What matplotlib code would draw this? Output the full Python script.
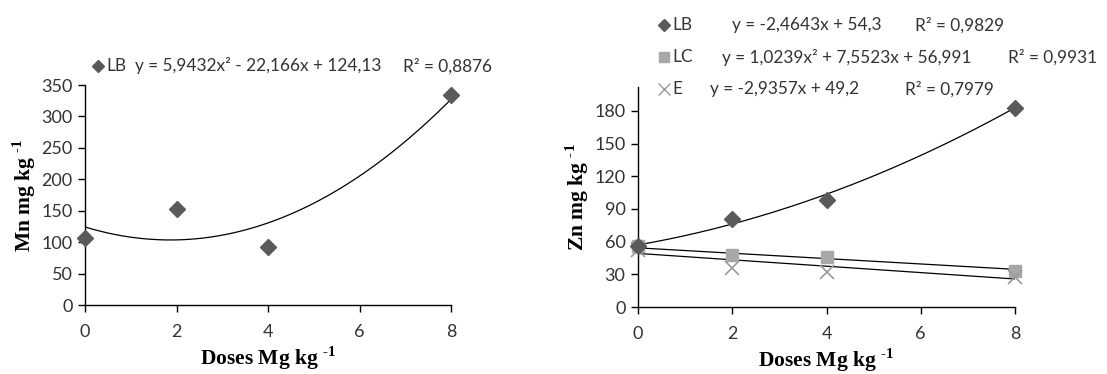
import numpy as np
import matplotlib
matplotlib.use("Agg")
import matplotlib.pyplot as plt
from matplotlib.lines import Line2D

plt.rcParams['mathtext.fontset'] = 'custom'
plt.rcParams['mathtext.rm'] = 'Liberation Serif:bold'
plt.rcParams['mathtext.bf'] = 'Liberation Serif:bold'

# ---------------- data ----------------
doses = [0, 2, 4, 8]
x_ticks = [0, 2, 4, 6, 8]

mn_lb = [106, 153, 93, 334]
mn_fit = [5.9432, -22.166, 124.13]
mn_yticks = [0, 50, 100, 150, 200, 250, 300, 350]
mn_eq = "y = 5,9432x² - 22,166x + 124,13"
mn_r2 = "R² = 0,8876"

zn_lb = [56, 81, 98, 183]
zn_lc = [56, 48, 46, 33]
zn_e = [52, 36, 32, 28]
zn_fit_lb = [1.0239, 7.5523, 56.991]
zn_fit_lc = [-2.4643, 54.3]
zn_fit_e = [-2.9357, 49.2]
zn_yticks = [0, 30, 60, 90, 120, 150, 180]
zn_labels = ["LB", "LC", "E"]
zn_eqs = ["y = -2,4643x + 54,3", "y = 1,0239x² + 7,5523x + 56,991", "y = -2,9357x + 49,2"]
zn_r2s = ["R² = 0,9829", "R² = 0,9931", "R² = 0,7979"]

# ---------------- style ----------------
W, H = 1107, 374
fig = plt.figure(figsize=(W / 100, H / 100), dpi=100)
TICK_FONT = "Lato"
TXT_COL = "#333333"
C_LB = "#5a5a5a"
C_LC = "#a8a8a8"
C_E = "#9a9a9a"
LEG_FS = 12.4


def px(x, y):
    return x / W, 1 - y / H


def add_label(ax, text, axis):
    """Bold serif axis label with a small '-1' superscript."""
    lab = text + r" $^{\text{-1}}$"
    if axis == "x":
        ax.set_xlabel(lab, fontfamily="Liberation Serif", fontweight="bold",
                      fontsize=15.5, labelpad=3)
    else:
        ax.set_ylabel(lab, fontfamily="Liberation Serif", fontweight="bold",
                      fontsize=15.5, labelpad=2)


def style_axis(ax, xmax, ymax, yticks):
    ax.set_xlim(0, xmax)
    ax.set_ylim(0, ymax)
    ax.set_xticks(x_ticks)
    ax.set_yticks(yticks)
    for s in ["top", "right"]:
        ax.spines[s].set_visible(False)
    for s in ["left", "bottom"]:
        ax.spines[s].set_linewidth(1.0)
        ax.spines[s].set_color("black")
    ax.tick_params(direction="out", length=5, width=1.0, colors="black",
                   labelcolor=TXT_COL, labelsize=13, pad=4)
    for lab in ax.get_xticklabels() + ax.get_yticklabels():
        lab.set_fontfamily(TICK_FONT)
    ax.tick_params(axis="x", pad=9)
    add_label(ax, "Doses Mg kg", "x")


xs = np.linspace(0, 8, 200)

# ---------------- left panel ----------------
ax1 = fig.add_axes([85 / W, 1 - 305 / H, 366 / W, 220 / H])
ax1.plot(xs, np.polyval(mn_fit, xs), color="black", lw=0.9, zorder=2)
ax1.plot(doses, mn_lb, linestyle="none", marker="D", ms=8, color=C_LB, zorder=3,
         clip_on=False)
style_axis(ax1, 8, 350, mn_yticks)
add_label(ax1, "Mn mg kg", "y")

# left legend
fig.add_artist(Line2D([px(98, 0)[0]], [px(0, 66)[1]], marker="D", ms=6.5,
                      color=C_LB, linestyle="none", transform=fig.transFigure))
fig.text(*px(106, 66), "LB", fontfamily=TICK_FONT, fontsize=LEG_FS, color=TXT_COL, va="center")
fig.text(*px(135, 66), mn_eq, fontfamily=TICK_FONT, fontsize=LEG_FS, color=TXT_COL, va="center")
fig.text(*px(403, 66), mn_r2, fontfamily=TICK_FONT, fontsize=LEG_FS, color=TXT_COL, va="center")

# ---------------- right panel ----------------
ax2 = fig.add_axes([638 / W, 1 - 307 / H, 377 / W, 220 / H])
ax2.plot(xs, np.polyval(zn_fit_lb, xs), color="black", lw=0.9, zorder=2)
ax2.plot(xs, np.polyval(zn_fit_lc, xs), color="black", lw=0.9, zorder=2)
ax2.plot(xs, np.polyval(zn_fit_e, xs), color="black", lw=0.9, zorder=2)
ax2.plot(doses, zn_lc, linestyle="none", marker="s", ms=9, color=C_LC, zorder=3,
         clip_on=False)
ax2.plot(doses, zn_e, linestyle="none", marker="x", ms=10, mew=1.2, color=C_E, zorder=3,
         clip_on=False)
ax2.plot(doses, zn_lb, linestyle="none", marker="D", ms=8, color=C_LB, zorder=4,
         clip_on=False)
style_axis(ax2, 8, 202, zn_yticks)
add_label(ax2, "Zn mg kg", "y")

# right legend
rows_y = [25, 57, 89]
markers = [("D", 6.5, C_LB, 1.0), ("s", 7.5, C_LC, 1.0), ("x", 8, C_E, 1.0)]
eq_x = [732, 722, 710]
r2_x = [915, 1008, 905]
for i in range(3):
    m, ms, c, mew = markers[i]
    fig.add_artist(Line2D([px(664, 0)[0]], [px(0, rows_y[i])[1]], marker=m, ms=ms,
                          mew=mew, color=c, linestyle="none", transform=fig.transFigure))
    fig.text(*px(672, rows_y[i]), zn_labels[i], fontfamily=TICK_FONT, fontsize=LEG_FS,
             color=TXT_COL, va="center")
    fig.text(*px(eq_x[i], rows_y[i]), zn_eqs[i], fontfamily=TICK_FONT, fontsize=LEG_FS,
             color=TXT_COL, va="center")
    fig.text(*px(r2_x[i], rows_y[i]), zn_r2s[i], fontfamily=TICK_FONT, fontsize=LEG_FS,
             color=TXT_COL, va="center")

fig.savefig("out.png", dpi=100, facecolor="white")
